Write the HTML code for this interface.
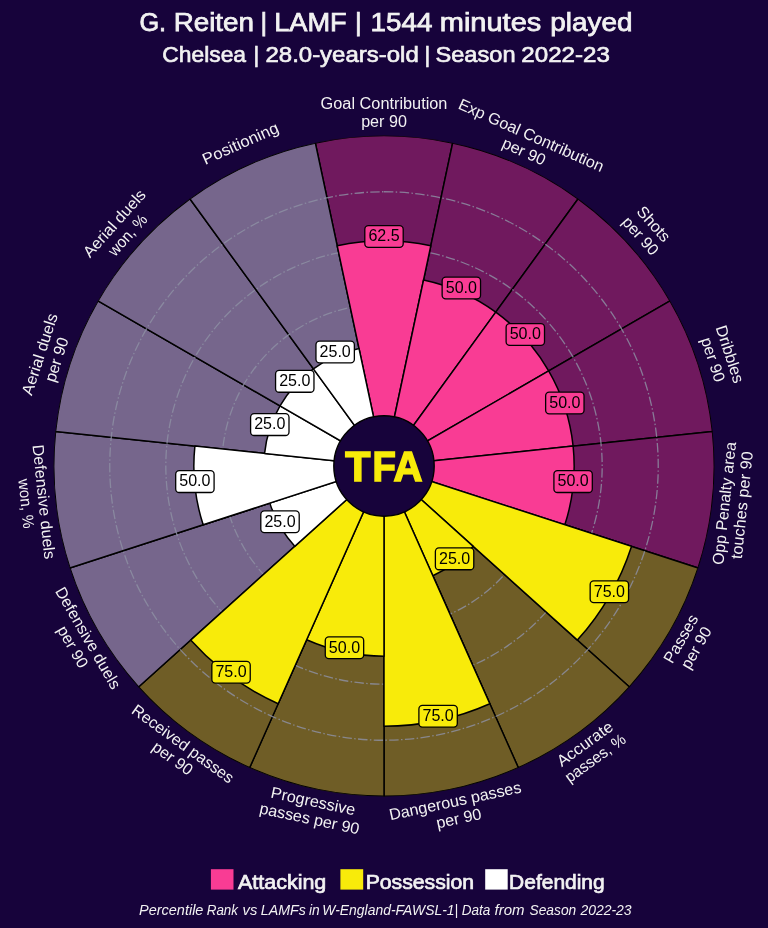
<!DOCTYPE html>
<html lang="en"><head><meta charset="utf-8"><title>G. Reiten | LAMF | Pizza chart</title>
<style>
html,body{margin:0;padding:0;background:#17033B;}
body{width:768px;height:928px;overflow:hidden;}
svg{display:block;font-family:"Liberation Sans",Arial,sans-serif;}
.ttl{fill:#F2F2F2;font-weight:bold;}
.lab{fill:#F2F2F2;}
.val{fill:#000;}
</style></head><body>
<svg width="768" height="928" viewBox="0 0 768 928">
<rect x="0" y="0" width="768" height="928" fill="#17033B"/>
<defs><clipPath id="oc"><circle cx="384.0" cy="466.0" r="330.45"/></clipPath></defs>
<g clip-path="url(#oc)">
<path d="M384.00,466.00L315.33,142.92A330.30,330.30 0 0 1 452.67,142.92Z" fill="#70195E" stroke="#000" stroke-width="1.5" stroke-linejoin="round"/>
<path d="M384.00,466.00L452.67,142.92A330.30,330.30 0 0 1 578.15,198.78Z" fill="#70195E" stroke="#000" stroke-width="1.5" stroke-linejoin="round"/>
<path d="M384.00,466.00L578.15,198.78A330.30,330.30 0 0 1 670.05,300.85Z" fill="#70195E" stroke="#000" stroke-width="1.5" stroke-linejoin="round"/>
<path d="M384.00,466.00L670.05,300.85A330.30,330.30 0 0 1 712.49,431.47Z" fill="#70195E" stroke="#000" stroke-width="1.5" stroke-linejoin="round"/>
<path d="M384.00,466.00L712.49,431.47A330.30,330.30 0 0 1 698.13,568.07Z" fill="#70195E" stroke="#000" stroke-width="1.5" stroke-linejoin="round"/>
<path d="M384.00,466.00L698.13,568.07A330.30,330.30 0 0 1 629.46,687.01Z" fill="#6F5D26" stroke="#000" stroke-width="1.5" stroke-linejoin="round"/>
<path d="M384.00,466.00L629.46,687.01A330.30,330.30 0 0 1 518.35,767.74Z" fill="#6F5D26" stroke="#000" stroke-width="1.5" stroke-linejoin="round"/>
<path d="M384.00,466.00L518.35,767.74A330.30,330.30 0 0 1 384.00,796.30Z" fill="#6F5D26" stroke="#000" stroke-width="1.5" stroke-linejoin="round"/>
<path d="M384.00,466.00L384.00,796.30A330.30,330.30 0 0 1 249.65,767.74Z" fill="#6F5D26" stroke="#000" stroke-width="1.5" stroke-linejoin="round"/>
<path d="M384.00,466.00L249.65,767.74A330.30,330.30 0 0 1 138.54,687.01Z" fill="#6F5D26" stroke="#000" stroke-width="1.5" stroke-linejoin="round"/>
<path d="M384.00,466.00L138.54,687.01A330.30,330.30 0 0 1 69.87,568.07Z" fill="#76668C" stroke="#000" stroke-width="1.5" stroke-linejoin="round"/>
<path d="M384.00,466.00L69.87,568.07A330.30,330.30 0 0 1 55.51,431.47Z" fill="#76668C" stroke="#000" stroke-width="1.5" stroke-linejoin="round"/>
<path d="M384.00,466.00L55.51,431.47A330.30,330.30 0 0 1 97.95,300.85Z" fill="#76668C" stroke="#000" stroke-width="1.5" stroke-linejoin="round"/>
<path d="M384.00,466.00L97.95,300.85A330.30,330.30 0 0 1 189.85,198.78Z" fill="#76668C" stroke="#000" stroke-width="1.5" stroke-linejoin="round"/>
<path d="M384.00,466.00L189.85,198.78A330.30,330.30 0 0 1 315.33,142.92Z" fill="#76668C" stroke="#000" stroke-width="1.5" stroke-linejoin="round"/>
</g>
<path d="M384.00,359.94A106.06,106.06 0 1 1 384.00,572.06A106.06,106.06 0 1 1 384.00,359.94" fill="none" stroke="#8E90A4" stroke-opacity="0.82" stroke-width="1.3" stroke-dasharray="9.464 2.366 1.479 2.366"/>
<path d="M384.00,303.88A162.12,162.12 0 1 1 384.00,628.12A162.12,162.12 0 1 1 384.00,303.88" fill="none" stroke="#8E90A4" stroke-opacity="0.82" stroke-width="1.3" stroke-dasharray="9.464 2.366 1.479 2.366"/>
<path d="M384.00,247.82A218.18,218.18 0 1 1 384.00,684.18A218.18,218.18 0 1 1 384.00,247.82" fill="none" stroke="#8E90A4" stroke-opacity="0.82" stroke-width="1.3" stroke-dasharray="9.464 2.366 1.479 2.366"/>
<path d="M384.00,191.76A274.24,274.24 0 1 1 384.00,740.24A274.24,274.24 0 1 1 384.00,191.76" fill="none" stroke="#8E90A4" stroke-opacity="0.82" stroke-width="1.3" stroke-dasharray="9.464 2.366 1.479 2.366"/>
<path d="M384.00,466.00L337.18,245.73A225.19,225.19 0 0 1 430.82,245.73Z" fill="#F93C94" stroke="#000" stroke-width="1.5" stroke-linejoin="round"/>
<path d="M384.00,466.00L423.53,280.01A190.15,190.15 0 0 1 495.77,312.17Z" fill="#F93C94" stroke="#000" stroke-width="1.5" stroke-linejoin="round"/>
<path d="M384.00,466.00L495.77,312.17A190.15,190.15 0 0 1 548.67,370.92Z" fill="#F93C94" stroke="#000" stroke-width="1.5" stroke-linejoin="round"/>
<path d="M384.00,466.00L548.67,370.92A190.15,190.15 0 0 1 573.11,446.12Z" fill="#F93C94" stroke="#000" stroke-width="1.5" stroke-linejoin="round"/>
<path d="M384.00,466.00L573.11,446.12A190.15,190.15 0 0 1 564.84,524.76Z" fill="#F93C94" stroke="#000" stroke-width="1.5" stroke-linejoin="round"/>
<path d="M384.00,466.00L631.49,546.41A260.23,260.23 0 0 1 577.38,640.12Z" fill="#F8EB0A" stroke="#000" stroke-width="1.5" stroke-linejoin="round"/>
<path d="M384.00,466.00L473.23,546.35A120.08,120.08 0 0 1 432.84,575.69Z" fill="#F8EB0A" stroke="#000" stroke-width="1.5" stroke-linejoin="round"/>
<path d="M384.00,466.00L489.84,703.73A260.23,260.23 0 0 1 384.00,726.23Z" fill="#F8EB0A" stroke="#000" stroke-width="1.5" stroke-linejoin="round"/>
<path d="M384.00,466.00L384.00,656.15A190.15,190.15 0 0 1 306.66,639.71Z" fill="#F8EB0A" stroke="#000" stroke-width="1.5" stroke-linejoin="round"/>
<path d="M384.00,466.00L278.16,703.73A260.23,260.23 0 0 1 190.62,640.12Z" fill="#F8EB0A" stroke="#000" stroke-width="1.5" stroke-linejoin="round"/>
<path d="M384.00,466.00L294.77,546.35A120.08,120.08 0 0 1 269.80,503.11Z" fill="#FFFFFF" stroke="#000" stroke-width="1.5" stroke-linejoin="round"/>
<path d="M384.00,466.00L203.16,524.76A190.15,190.15 0 0 1 194.89,446.12Z" fill="#FFFFFF" stroke="#000" stroke-width="1.5" stroke-linejoin="round"/>
<path d="M384.00,466.00L264.58,453.45A120.08,120.08 0 0 1 280.01,405.96Z" fill="#FFFFFF" stroke="#000" stroke-width="1.5" stroke-linejoin="round"/>
<path d="M384.00,466.00L280.01,405.96A120.08,120.08 0 0 1 313.42,368.86Z" fill="#FFFFFF" stroke="#000" stroke-width="1.5" stroke-linejoin="round"/>
<path d="M384.00,466.00L313.42,368.86A120.08,120.08 0 0 1 359.04,348.55Z" fill="#FFFFFF" stroke="#000" stroke-width="1.5" stroke-linejoin="round"/>
<circle cx="384.0" cy="466.0" r="50.2" fill="#17033B" stroke="#000" stroke-width="1.4"/>
<text y="480.9" font-size="42.7" font-weight="bold" fill="#F8EB0A" stroke="#F8EB0A" stroke-width="1.6"><tspan x="345.34" textLength="25.15" lengthAdjust="spacingAndGlyphs">T</tspan><tspan x="372.51" textLength="23.33" lengthAdjust="spacingAndGlyphs">F</tspan><tspan x="393.5" textLength="28.97" lengthAdjust="spacingAndGlyphs">A</tspan></text>
<rect x="364.80" y="225.61" width="38.4" height="21.8" rx="3.6" fill="#F93C94" stroke="#000" stroke-width="1.3"/>
<text class="val" x="384.00" y="241.41" text-anchor="middle" font-size="16.0" textLength="31.2" lengthAdjust="spacingAndGlyphs">62.5</text>
<rect x="442.14" y="277.09" width="38.4" height="21.8" rx="3.6" fill="#F93C94" stroke="#000" stroke-width="1.3"/>
<text class="val" x="461.34" y="292.89" text-anchor="middle" font-size="16.0" textLength="31.2" lengthAdjust="spacingAndGlyphs">50.0</text>
<rect x="506.11" y="323.56" width="38.4" height="21.8" rx="3.6" fill="#F93C94" stroke="#000" stroke-width="1.3"/>
<text class="val" x="525.31" y="339.36" text-anchor="middle" font-size="16.0" textLength="31.2" lengthAdjust="spacingAndGlyphs">50.0</text>
<rect x="545.64" y="392.04" width="38.4" height="21.8" rx="3.6" fill="#F93C94" stroke="#000" stroke-width="1.3"/>
<text class="val" x="564.84" y="407.84" text-anchor="middle" font-size="16.0" textLength="31.2" lengthAdjust="spacingAndGlyphs">50.0</text>
<rect x="553.91" y="470.68" width="38.4" height="21.8" rx="3.6" fill="#F93C94" stroke="#000" stroke-width="1.3"/>
<text class="val" x="573.11" y="486.48" text-anchor="middle" font-size="16.0" textLength="31.2" lengthAdjust="spacingAndGlyphs">50.0</text>
<rect x="590.16" y="580.91" width="38.4" height="21.8" rx="3.6" fill="#F8EB0A" stroke="#000" stroke-width="1.3"/>
<text class="val" x="609.36" y="596.71" text-anchor="middle" font-size="16.0" textLength="31.2" lengthAdjust="spacingAndGlyphs">75.0</text>
<rect x="435.38" y="547.94" width="38.4" height="21.8" rx="3.6" fill="#F8EB0A" stroke="#000" stroke-width="1.3"/>
<text class="val" x="454.58" y="563.74" text-anchor="middle" font-size="16.0" textLength="31.2" lengthAdjust="spacingAndGlyphs">25.0</text>
<rect x="418.90" y="705.34" width="38.4" height="21.8" rx="3.6" fill="#F8EB0A" stroke="#000" stroke-width="1.3"/>
<text class="val" x="438.10" y="721.14" text-anchor="middle" font-size="16.0" textLength="31.2" lengthAdjust="spacingAndGlyphs">75.0</text>
<rect x="325.27" y="636.79" width="38.4" height="21.8" rx="3.6" fill="#F8EB0A" stroke="#000" stroke-width="1.3"/>
<text class="val" x="344.47" y="652.59" text-anchor="middle" font-size="16.0" textLength="31.2" lengthAdjust="spacingAndGlyphs">50.0</text>
<rect x="211.84" y="661.33" width="38.4" height="21.8" rx="3.6" fill="#F8EB0A" stroke="#000" stroke-width="1.3"/>
<text class="val" x="231.04" y="677.13" text-anchor="middle" font-size="16.0" textLength="31.2" lengthAdjust="spacingAndGlyphs">75.0</text>
<rect x="260.81" y="510.84" width="38.4" height="21.8" rx="3.6" fill="#FFFFFF" stroke="#000" stroke-width="1.3"/>
<text class="val" x="280.01" y="526.64" text-anchor="middle" font-size="16.0" textLength="31.2" lengthAdjust="spacingAndGlyphs">25.0</text>
<rect x="175.69" y="470.68" width="38.4" height="21.8" rx="3.6" fill="#FFFFFF" stroke="#000" stroke-width="1.3"/>
<text class="val" x="194.89" y="486.48" text-anchor="middle" font-size="16.0" textLength="31.2" lengthAdjust="spacingAndGlyphs">50.0</text>
<rect x="250.60" y="413.69" width="38.4" height="21.8" rx="3.6" fill="#FFFFFF" stroke="#000" stroke-width="1.3"/>
<text class="val" x="269.80" y="429.49" text-anchor="middle" font-size="16.0" textLength="31.2" lengthAdjust="spacingAndGlyphs">25.0</text>
<rect x="275.57" y="370.45" width="38.4" height="21.8" rx="3.6" fill="#FFFFFF" stroke="#000" stroke-width="1.3"/>
<text class="val" x="294.77" y="386.25" text-anchor="middle" font-size="16.0" textLength="31.2" lengthAdjust="spacingAndGlyphs">25.0</text>
<rect x="315.96" y="341.11" width="38.4" height="21.8" rx="3.6" fill="#FFFFFF" stroke="#000" stroke-width="1.3"/>
<text class="val" x="335.16" y="356.91" text-anchor="middle" font-size="16.0" textLength="31.2" lengthAdjust="spacingAndGlyphs">25.0</text>
<g transform="translate(384.00,114.00) rotate(0.00)">
<text class="lab" x="0" y="-4.60" text-anchor="middle" font-size="16.0" textLength="126.8" lengthAdjust="spacingAndGlyphs">Goal Contribution</text>
<text class="lab" x="0" y="13.10" text-anchor="middle" font-size="16.0" textLength="45.7" lengthAdjust="spacingAndGlyphs">per 90</text>
</g>
<g transform="translate(527.17,144.43) rotate(24.00)">
<text class="lab" x="0" y="-4.60" text-anchor="middle" font-size="16.0" textLength="157.4" lengthAdjust="spacingAndGlyphs">Exp Goal Contribution</text>
<text class="lab" x="0" y="13.10" text-anchor="middle" font-size="16.0" textLength="45.7" lengthAdjust="spacingAndGlyphs">per 90</text>
</g>
<g transform="translate(646.19,230.67) rotate(48.00)">
<text class="lab" x="0" y="-4.60" text-anchor="middle" font-size="16.0" textLength="41.7" lengthAdjust="spacingAndGlyphs">Shots</text>
<text class="lab" x="0" y="13.10" text-anchor="middle" font-size="16.0" textLength="45.7" lengthAdjust="spacingAndGlyphs">per 90</text>
</g>
<g transform="translate(720.37,357.23) rotate(72.00)">
<text class="lab" x="0" y="-4.60" text-anchor="middle" font-size="16.0" textLength="59.5" lengthAdjust="spacingAndGlyphs">Dribbles</text>
<text class="lab" x="0" y="13.10" text-anchor="middle" font-size="16.0" textLength="45.7" lengthAdjust="spacingAndGlyphs">per 90</text>
</g>
<g transform="translate(734.27,504.39) rotate(276.00)">
<text class="lab" x="0" y="-4.60" text-anchor="middle" font-size="16.0" textLength="123.4" lengthAdjust="spacingAndGlyphs">Opp Penalty area</text>
<text class="lab" x="0" y="13.10" text-anchor="middle" font-size="16.0" textLength="108.0" lengthAdjust="spacingAndGlyphs">touches per 90</text>
</g>
<g transform="translate(689.54,643.90) rotate(300.00)">
<text class="lab" x="0" y="-4.60" text-anchor="middle" font-size="16.0" textLength="53.1" lengthAdjust="spacingAndGlyphs">Passes</text>
<text class="lab" x="0" y="13.10" text-anchor="middle" font-size="16.0" textLength="45.7" lengthAdjust="spacingAndGlyphs">per 90</text>
</g>
<g transform="translate(590.70,751.87) rotate(324.00)">
<text class="lab" x="0" y="-4.60" text-anchor="middle" font-size="16.0" textLength="65.1" lengthAdjust="spacingAndGlyphs">Accurate</text>
<text class="lab" x="0" y="13.10" text-anchor="middle" font-size="16.0" textLength="71.1" lengthAdjust="spacingAndGlyphs">passes, %</text>
</g>
<g transform="translate(457.18,810.81) rotate(348.00)">
<text class="lab" x="0" y="-4.60" text-anchor="middle" font-size="16.0" textLength="134.6" lengthAdjust="spacingAndGlyphs">Dangerous passes</text>
<text class="lab" x="0" y="13.10" text-anchor="middle" font-size="16.0" textLength="45.7" lengthAdjust="spacingAndGlyphs">per 90</text>
</g>
<g transform="translate(311.12,811.01) rotate(372.00)">
<text class="lab" x="0" y="-4.60" text-anchor="middle" font-size="16.0" textLength="85.8" lengthAdjust="spacingAndGlyphs">Progressive</text>
<text class="lab" x="0" y="13.10" text-anchor="middle" font-size="16.0" textLength="101.7" lengthAdjust="spacingAndGlyphs">passes per 90</text>
</g>
<g transform="translate(177.10,751.97) rotate(396.00)">
<text class="lab" x="0" y="-4.60" text-anchor="middle" font-size="16.0" textLength="121.6" lengthAdjust="spacingAndGlyphs">Received passes</text>
<text class="lab" x="0" y="13.10" text-anchor="middle" font-size="16.0" textLength="45.7" lengthAdjust="spacingAndGlyphs">per 90</text>
</g>
<g transform="translate(79.46,643.00) rotate(420.00)">
<text class="lab" x="0" y="-4.60" text-anchor="middle" font-size="16.0" textLength="114.8" lengthAdjust="spacingAndGlyphs">Defensive duels</text>
<text class="lab" x="0" y="13.10" text-anchor="middle" font-size="16.0" textLength="45.7" lengthAdjust="spacingAndGlyphs">per 90</text>
</g>
<g transform="translate(33.93,502.79) rotate(444.00)">
<text class="lab" x="0" y="-4.60" text-anchor="middle" font-size="16.0" textLength="114.8" lengthAdjust="spacingAndGlyphs">Defensive duels</text>
<text class="lab" x="0" y="13.10" text-anchor="middle" font-size="16.0" textLength="49.8" lengthAdjust="spacingAndGlyphs">won, %</text>
</g>
<g transform="translate(49.23,357.23) rotate(288.00)">
<text class="lab" x="0" y="-4.60" text-anchor="middle" font-size="16.0" textLength="84.9" lengthAdjust="spacingAndGlyphs">Aerial duels</text>
<text class="lab" x="0" y="13.10" text-anchor="middle" font-size="16.0" textLength="45.7" lengthAdjust="spacingAndGlyphs">per 90</text>
</g>
<g transform="translate(121.81,229.97) rotate(312.00)">
<text class="lab" x="0" y="-4.60" text-anchor="middle" font-size="16.0" textLength="84.9" lengthAdjust="spacingAndGlyphs">Aerial duels</text>
<text class="lab" x="0" y="13.10" text-anchor="middle" font-size="16.0" textLength="49.8" lengthAdjust="spacingAndGlyphs">won, %</text>
</g>
<g transform="translate(240.83,144.43) rotate(336.00)">
<text class="lab" x="0" y="4.25" text-anchor="middle" font-size="16.0" textLength="81.7" lengthAdjust="spacingAndGlyphs">Positioning</text>
</g>
<text y="31.4" font-size="25.5" fill="#F2F2F2" stroke="#F2F2F2" stroke-width="0.75"><tspan x="139.41" textLength="26.64" lengthAdjust="spacingAndGlyphs">G.</tspan> <tspan x="173.69" textLength="80.31" lengthAdjust="spacingAndGlyphs">Reiten</tspan> <tspan x="260.62" textLength="6.62" lengthAdjust="spacingAndGlyphs">|</tspan> <tspan x="274.24" textLength="72.48" lengthAdjust="spacingAndGlyphs">LAMF</tspan> <tspan x="355.02" textLength="6.62" lengthAdjust="spacingAndGlyphs">|</tspan> <tspan x="370.59" textLength="61.84" lengthAdjust="spacingAndGlyphs">1544</tspan> <tspan x="439.79" textLength="101.53" lengthAdjust="spacingAndGlyphs">minutes</tspan> <tspan x="550.33" textLength="82.21" lengthAdjust="spacingAndGlyphs">played</tspan></text>
<text y="62.3" font-size="22" fill="#F2F2F2" stroke="#F2F2F2" stroke-width="0.65"><tspan x="162.32" textLength="83.69" lengthAdjust="spacingAndGlyphs">Chelsea</tspan> <tspan x="253.38" textLength="5.72" lengthAdjust="spacingAndGlyphs">|</tspan> <tspan x="265.48" textLength="153.26" lengthAdjust="spacingAndGlyphs">28.0-years-old</tspan> <tspan x="424.62" textLength="5.72" lengthAdjust="spacingAndGlyphs">|</tspan> <tspan x="435.49" textLength="80.11" lengthAdjust="spacingAndGlyphs">Season</tspan> <tspan x="521.38" textLength="88.54" lengthAdjust="spacingAndGlyphs">2022-23</tspan></text>
<rect x="210.9" y="869.2" width="22.6" height="20.4" fill="#F93C94"/>
<rect x="340.4" y="869.2" width="22.8" height="20.4" fill="#F8EB0A"/>
<rect x="485.2" y="869.2" width="22.5" height="20.4" fill="#FFFFFF"/>
<text x="237.97" y="888.8" font-size="20" fill="#F2F2F2" stroke="#F2F2F2" stroke-width="0.7" textLength="88.32" lengthAdjust="spacingAndGlyphs">Attacking</text>
<text x="365.71" y="888.8" font-size="20" fill="#F2F2F2" stroke="#F2F2F2" stroke-width="0.7" textLength="108.38" lengthAdjust="spacingAndGlyphs">Possession</text>
<text x="509.13" y="888.8" font-size="20" fill="#F2F2F2" stroke="#F2F2F2" stroke-width="0.7" textLength="95.55" lengthAdjust="spacingAndGlyphs">Defending</text>
<text y="914.6" font-size="13.8" fill="#F2F2F2" font-style="italic"><tspan x="138.97" textLength="64.47" lengthAdjust="spacingAndGlyphs">Percentile</tspan> <tspan x="206.71" textLength="31.31" lengthAdjust="spacingAndGlyphs">Rank</tspan> <tspan x="242.6" textLength="14.72" lengthAdjust="spacingAndGlyphs">vs</tspan> <tspan x="260.78" textLength="45.08" lengthAdjust="spacingAndGlyphs">LAMFs</tspan> <tspan x="308.88" textLength="10.75" lengthAdjust="spacingAndGlyphs">in</tspan> <tspan x="322.34" textLength="135.82" lengthAdjust="spacingAndGlyphs">W-England-FAWSL-1|</tspan> <tspan x="461.81" textLength="28.59" lengthAdjust="spacingAndGlyphs">Data</tspan> <tspan x="494.56" textLength="30.01" lengthAdjust="spacingAndGlyphs">from</tspan> <tspan x="529.5" textLength="46.75" lengthAdjust="spacingAndGlyphs">Season</tspan> <tspan x="580.4" textLength="51.24" lengthAdjust="spacingAndGlyphs">2022-23</tspan></text>
</svg></body></html>
